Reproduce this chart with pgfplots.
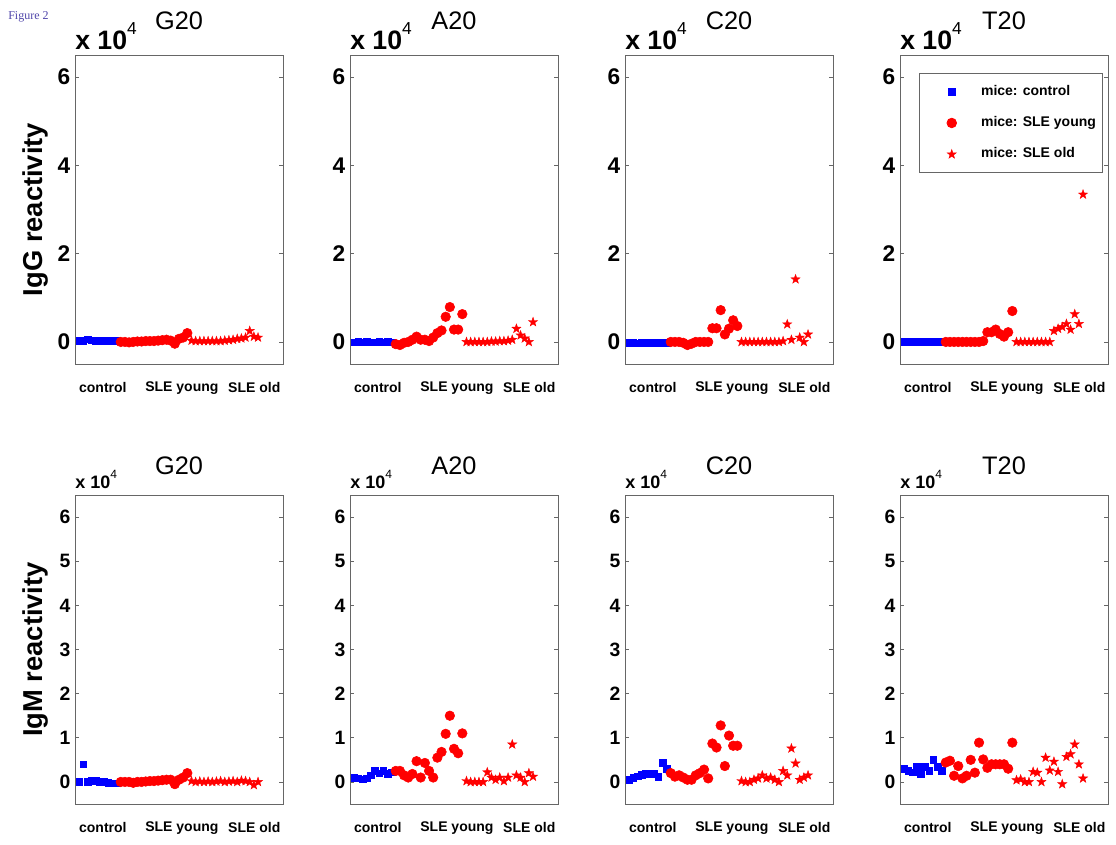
\documentclass[border=0pt]{standalone}
\usepackage{fontspec}
\setmainfont{Liberation Sans}
\newfontfamily\serifff{Liberation Serif}
\usepackage{pgfplots}
\pgfplotsset{compat=1.18}
\definecolor{axgray}{gray}{0.4}
\definecolor{figblue}{RGB}{80,70,170}

\pgfdeclareplotmark{fstar}{%
  \pgfpathmoveto{\pgfqpointpolar{90}{\pgfplotmarksize}}%
  \pgfpathlineto{\pgfqpointpolar{126}{0.4\pgfplotmarksize}}%
  \pgfpathlineto{\pgfqpointpolar{162}{\pgfplotmarksize}}%
  \pgfpathlineto{\pgfqpointpolar{198}{0.4\pgfplotmarksize}}%
  \pgfpathlineto{\pgfqpointpolar{234}{\pgfplotmarksize}}%
  \pgfpathlineto{\pgfqpointpolar{270}{0.4\pgfplotmarksize}}%
  \pgfpathlineto{\pgfqpointpolar{306}{\pgfplotmarksize}}%
  \pgfpathlineto{\pgfqpointpolar{342}{0.4\pgfplotmarksize}}%
  \pgfpathlineto{\pgfqpointpolar{18}{\pgfplotmarksize}}%
  \pgfpathlineto{\pgfqpointpolar{54}{0.4\pgfplotmarksize}}%
  \pgfpathclose
  \pgfusepathqfillstroke}

\pgfplotsset{
 panel/.style={
  scale only axis, width=156pt, height=231.75pt,
  xmin=0, xmax=50, ymin=-0.5, ymax=6.5,
  axis line style={draw=axgray, line width=0.6pt},
  xtick={6.7,25.7,43.1}, xticklabels={control,SLE young,SLE old},
  x tick style={draw=none},
  y tick style={draw=axgray, line width=0.5pt},
  tick align=inside, major tick length=3pt,
  x tick label style={font=\bfseries\fontsize{10.5}{12}\selectfont, yshift=-10pt},
  /pgf/number format/assume math mode=true,
  title style={anchor=base, at={(0.5,1)}, font=\fontsize{19}{20}\selectfont},
  ylabel style={at={(axis description cs:-0.19,0.5)}, anchor=center, font=\bfseries\fontsize{20.5}{22}\selectfont},
  clip=false,
 },
 toprow/.style={panel, ytick={0,2,4,6},
  y tick label style={font=\bfseries\fontsize{17}{18}\selectfont},
  title style={yshift=13pt}},
 botrow/.style={panel, ytick={0,1,2,3,4,5,6},
  y tick label style={font=\bfseries\fontsize{14.5}{16}\selectfont},
  title style={yshift=9.5pt}},
 cst/.style={only marks, mark=square*, mark size=2.5pt, draw=blue, fill=blue, mark options={draw=blue, fill=blue}},
 yst/.style={only marks, mark=*, mark size=3.6pt, draw=red, fill=red, mark options={draw=red, fill=red}},
 ost/.style={only marks, mark=fstar, mark size=3.6pt, draw=red, fill=red, mark options={draw=red, fill=red, line width=0.3pt}},
}
\newcommand{\xtentop}{\node[anchor=base west, inner sep=0pt, font=\bfseries\fontsize{20}{21}\selectfont, yshift=4pt] at (rel axis cs:0,1) {x 10\raisebox{0.55em}{\fontsize{13}{14}\selectfont\mdseries 4}};}
\newcommand{\xtenbot}{\node[anchor=base west, inner sep=0pt, font=\bfseries\fontsize{13.5}{14}\selectfont, yshift=5pt] at (rel axis cs:0,1) {x 10\raisebox{0.55em}{\fontsize{9}{10}\selectfont\mdseries 4}};}

\begin{document}
\begin{tikzpicture}
\useasboundingbox (0,0) rectangle (837pt,-633.75pt);
\node[anchor=base west, inner sep=0pt, font=\serifff\fontsize{9}{10}\selectfont, text=figblue] at (6pt,-15pt) {Figure 2};

% ---------------- top row: IgG ----------------
\begin{axis}[toprow, at={(56.25pt,-41.25pt)}, anchor=north west, title={G20}, ylabel={IgG reactivity}]
\addplot[cst] coordinates {(1,0.02)(2,0.03)(3,0.06)(4,0.04)(5,0.02)(6,0.02)(7,0.02)(8,0.02)(9,0.02)(10,0.02)};
\addplot[yst] coordinates {(11,0)(12,0)(13,-0.01)(14,0)(15,0.01)(16,0.01)(17,0.02)(18,0.02)(19,0.02)(20,0.03)(21,0.04)(22,0.05)(23,0.03)(24,-0.04)(25,0.07)(26,0.1)(27,0.2)};
\addplot[ost] coordinates {(28,0.03)(29,0.02)(30,0.02)(31,0.02)(32,0.02)(33,0.02)(34,0.02)(35,0.02)(36,0.03)(37,0.04)(38,0.05)(39,0.07)(40,0.08)(41,0.1)(42,0.25)(43,0.12)(44,0.1)};
\xtentop
\end{axis}

\begin{axis}[toprow, at={(262.5pt,-41.25pt)}, anchor=north west, title={A20}]
\addplot[cst] coordinates {(1,-0.01)(2,0)(3,-0.01)(4,0)(5,-0.01)(6,-0.01)(7,0)(8,-0.01)(9,0)(10,-0.01)};
\addplot[yst] coordinates {(11,-0.05)(12,-0.07)(13,-0.02)(14,0)(15,0.05)(16,0.12)(17,0.05)(18,0.05)(19,0.02)(20,0.1)(21,0.2)(22,0.26)(23,0.57)(24,0.79)(25,0.28)(26,0.28)(27,0.63)};
\addplot[ost] coordinates {(28,0)(29,0)(30,0)(31,0)(32,0)(33,0)(34,0.01)(35,0.01)(36,0.02)(37,0.02)(38,0.03)(39,0.05)(40,0.3)(41,0.15)(42,0.08)(43,0)(44,0.45)};
\xtentop
\end{axis}

\begin{axis}[toprow, at={(468.75pt,-41.25pt)}, anchor=north west, title={C20}]
\addplot[cst] coordinates {(1,-0.02)(2,-0.02)(3,-0.03)(4,-0.02)(5,-0.02)(6,-0.02)(7,-0.02)(8,-0.02)(9,-0.02)(10,-0.02)};
\addplot[yst] coordinates {(11,0)(12,0)(13,0)(14,-0.02)(15,-0.07)(16,-0.04)(17,0)(18,0)(19,0)(20,0)(21,0.31)(22,0.31)(23,0.72)(24,0.17)(25,0.3)(26,0.49)(27,0.36)};
\addplot[ost] coordinates {(28,0)(29,0)(30,0)(31,0)(32,0)(33,0)(34,0)(35,0)(36,0)(37,0)(38,0.02)(39,0.4)(40,0.05)(41,1.42)(42,0.1)(43,0)(44,0.17)};
\xtentop
\end{axis}

\begin{axis}[toprow, at={(675pt,-41.25pt)}, anchor=north west, title={T20},
  legend style={at={(rel axis cs:0.976,0.942)}, anchor=north east, draw=axgray, line width=0.6pt,
    font=\bfseries\fontsize{10.5}{12}\selectfont, inner xsep=3pt, inner ysep=6.5pt, row sep=9pt,
    nodes={text height=8pt, text depth=2.5pt}},
  legend cell align=left,
  legend image code/.code={\path[draw=none,fill=none] (0pt,0pt) -- (41pt,0pt); \draw[#1] plot coordinates {(21pt,0pt)};}]
\addplot[cst] coordinates {(1,0)(2,0)(3,0)(4,0)(5,0)(6,0)(7,0)(8,0)(9,0)(10,0)};
\addplot[yst] coordinates {(11,0)(12,0)(13,0)(14,0)(15,0)(16,0)(17,0)(18,0)(19,0)(20,0.02)(21,0.22)(22,0.22)(23,0.28)(24,0.18)(25,0.12)(26,0.22)(27,0.7)};
\addplot[ost] coordinates {(28,0)(29,0)(30,0)(31,0)(32,0)(33,0)(34,0)(35,0)(36,0)(37,0.25)(38,0.3)(39,0.34)(40,0.41)(41,0.28)(42,0.63)(43,0.41)(44,3.34)};
\legend{mice: control, mice: SLE young, mice: SLE old}
\xtentop
\end{axis}

% ---------------- bottom row: IgM ----------------
\begin{axis}[botrow, at={(56.25pt,-371.25pt)}, anchor=north west, title={G20}, ylabel={IgM reactivity}]
\addplot[cst] coordinates {(1,0)(2,0.4)(3,0)(4,0.02)(5,0.02)(6,0)(7,0)(8,-0.02)(9,-0.03)(10,-0.03)};
\addplot[yst] coordinates {(11,0)(12,0)(13,0)(14,-0.02)(15,0)(16,0)(17,0.01)(18,0.02)(19,0.02)(20,0.03)(21,0.04)(22,0.05)(23,0.05)(24,-0.05)(25,0.05)(26,0.1)(27,0.2)};
\addplot[ost] coordinates {(28,0.02)(29,0)(30,0.01)(31,0)(32,0.01)(33,0)(34,0.01)(35,0.02)(36,0)(37,0.01)(38,0.02)(39,0)(40,0.03)(41,0.02)(42,0)(43,-0.07)(44,0)};
\xtenbot
\end{axis}

\begin{axis}[botrow, at={(262.5pt,-371.25pt)}, anchor=north west, title={A20}]
\addplot[cst] coordinates {(1,0.1)(2,0.08)(3,0.06)(4,0.08)(5,0.15)(6,0.25)(7,0.2)(8,0.25)(9,0.18)(10,0.22)};
\addplot[yst] coordinates {(11,0.25)(12,0.25)(13,0.15)(14,0.1)(15,0.18)(16,0.47)(17,0.1)(18,0.43)(19,0.25)(20,0.1)(21,0.55)(22,0.68)(23,1.09)(24,1.5)(25,0.75)(26,0.65)(27,1.1)};
\addplot[ost] coordinates {(28,0.02)(29,0)(30,0)(31,0)(32,0)(33,0.22)(34,0.1)(35,0.05)(36,0.1)(37,0.02)(38,0.1)(39,0.85)(40,0.15)(41,0.1)(42,0)(43,0.2)(44,0.12)};
\xtenbot
\end{axis}

\begin{axis}[botrow, at={(468.75pt,-371.25pt)}, anchor=north west, title={C20}]
\addplot[cst] coordinates {(1,0.05)(2,0.1)(3,0.13)(4,0.16)(5,0.18)(6,0.19)(7,0.19)(8,0.12)(9,0.44)(10,0.3)};
\addplot[yst] coordinates {(11,0.2)(12,0.12)(13,0.15)(14,0.1)(15,0.05)(16,0.05)(17,0.15)(18,0.2)(19,0.28)(20,0.08)(21,0.87)(22,0.78)(23,1.28)(24,0.36)(25,1.05)(26,0.82)(27,0.82)};
\addplot[ost] coordinates {(28,0.02)(29,0)(30,0)(31,0.05)(32,0.08)(33,0.15)(34,0.08)(35,0.1)(36,0.05)(37,0)(38,0.25)(39,0.15)(40,0.76)(41,0.42)(42,0.05)(43,0.1)(44,0.15)};
\xtenbot
\end{axis}

\begin{axis}[botrow, at={(675pt,-371.25pt)}, anchor=north west, title={T20}]
\addplot[cst] coordinates {(1,0.3)(2,0.25)(3,0.22)(4,0.35)(5,0.17)(6,0.35)(7,0.25)(8,0.5)(9,0.35)(10,0.25)};
\addplot[yst] coordinates {(11,0.44)(12,0.48)(13,0.14)(14,0.36)(15,0.08)(16,0.14)(17,0.5)(18,0.21)(19,0.89)(20,0.51)(21,0.32)(22,0.4)(23,0.4)(24,0.4)(25,0.4)(26,0.3)(27,0.89)};
\addplot[ost] coordinates {(28,0.04)(29,0.06)(30,0)(31,0)(32,0.23)(33,0.21)(34,0)(35,0.55)(36,0.26)(37,0.46)(38,0.23)(39,-0.05)(40,0.57)(41,0.63)(42,0.85)(43,0.4)(44,0.08)};
\xtenbot
\end{axis}
\end{tikzpicture}
\end{document}
